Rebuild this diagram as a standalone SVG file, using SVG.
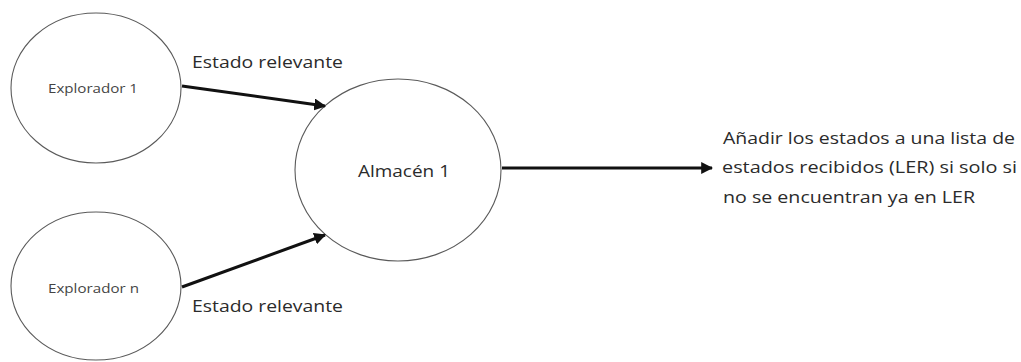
<svg xmlns="http://www.w3.org/2000/svg" width="1021" height="362" viewBox="0 0 1021 362">
  <style>
    .node { fill: #ffffff; stroke: #5a5a5a; stroke-width: 1.1; }
    .small { font-family: "Open Sans", "Liberation Sans", sans-serif; font-size: 12px; fill: #444444; }
    .label { font-family: "Open Sans", "Liberation Sans", sans-serif; font-size: 17px; fill: #2b2b2b; }
    .edge { stroke: #111111; stroke-width: 3; fill: none; marker-end: url(#arrow); }
  </style>
  <defs>
    <marker id="arrow" viewBox="0 0 10 10" refX="9" refY="5" markerWidth="4" markerHeight="4" orient="auto" markerUnits="strokeWidth">
      <path d="M0,0 L10,5 L0,10 z" fill="#111111"/>
    </marker>
  </defs>
  <rect width="1021" height="362" fill="#ffffff"/>

  <g id="explorador-1">
    <ellipse class="node" cx="96" cy="88" rx="85" ry="75"/>
    <text class="small" x="48" y="93" textLength="90" lengthAdjust="spacingAndGlyphs">Explorador 1</text>
  </g>

  <g id="explorador-n">
    <ellipse class="node" cx="96" cy="286" rx="85" ry="74"/>
    <text class="small" x="48" y="293" textLength="91" lengthAdjust="spacingAndGlyphs">Explorador n</text>
  </g>

  <g id="almacen-1">
    <ellipse class="node" cx="398" cy="170" rx="103" ry="91"/>
    <text class="label" x="358" y="177" font-size="18" textLength="92" lengthAdjust="spacingAndGlyphs">Almacén 1</text>
  </g>

  <g id="connectors">
    <line class="edge" x1="182" y1="86" x2="325" y2="106"/>
    <line class="edge" x1="182" y1="287" x2="325" y2="235"/>
    <line class="edge" x1="502" y1="168" x2="712" y2="168"/>
  </g>

  <g id="labels">
    <text class="label" x="192" y="68" textLength="151" lengthAdjust="spacingAndGlyphs">Estado relevante</text>
    <text class="label" x="192" y="312" textLength="151" lengthAdjust="spacingAndGlyphs">Estado relevante</text>
    <text class="label" x="723" y="144" textLength="292" lengthAdjust="spacingAndGlyphs">Añadir los estados a una lista de</text>
    <text class="label" x="722" y="173" textLength="295" lengthAdjust="spacingAndGlyphs">estados recibidos (LER) si solo si</text>
    <text class="label" x="723" y="203" textLength="252" lengthAdjust="spacingAndGlyphs">no se encuentran ya en LER</text>
  </g>
</svg>
